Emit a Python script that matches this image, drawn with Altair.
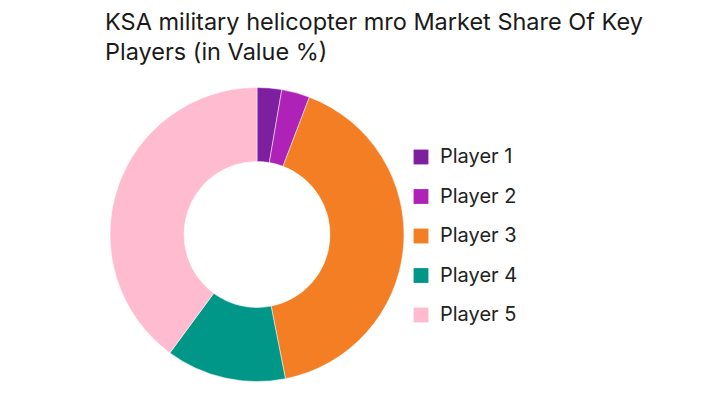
import altair as alt
import pandas as pd

players = ["Player 1", "Player 2", "Player 3", "Player 4", "Player 5"]
shares = [2.7, 3.1, 41.1, 13.2, 39.9]
colors = ["#7E1FA0", "#AF22B8", "#F47E24", "#009688", "#FFBBD0"]

df = pd.DataFrame({"player": players, "share": shares, "order": list(range(len(players)))})

chart = alt.Chart(df).mark_arc(radius=147, radius2=73, stroke="white", strokeWidth=0.5).encode(
    theta=alt.Theta("share:Q", stack=True),
    order=alt.Order("order:Q"),
    color=alt.Color(
        "player:N",
        scale=alt.Scale(domain=players, range=colors),
        legend=alt.Legend(
            title=None,
            orient="none",
            legendX=403,
            legendY=77,
            symbolType="square",
            symbolSize=220,
            symbolStrokeWidth=0,
            labelFontSize=20,
            labelFont="Inter",
            labelColor="#222222",
            rowPadding=19.5,
            labelOffset=9,
        ),
    ),
    x=alt.value(249),
    y=alt.value(164.5),
).properties(
    width=703,
    height=315,
    autosize=alt.AutoSizeParams(type="none"),
    padding={"top": 62, "left": 0, "right": 0, "bottom": 0},
    title=alt.TitleParams(
        text=["KSA military helicopter mro Market Share Of Key", "Players (in Value %)"],
        anchor="start",
        orient="top",
        offset=6,
        dx=97,
        fontSize=23.5,
        font="Inter",
        fontWeight="normal",
        color="#1a1a1a",
        lineHeight=30,
        frame="group",
    ),
).configure_view(stroke=None)

chart.save("out.html", embed_options={"renderer": "svg", "actions": False})
